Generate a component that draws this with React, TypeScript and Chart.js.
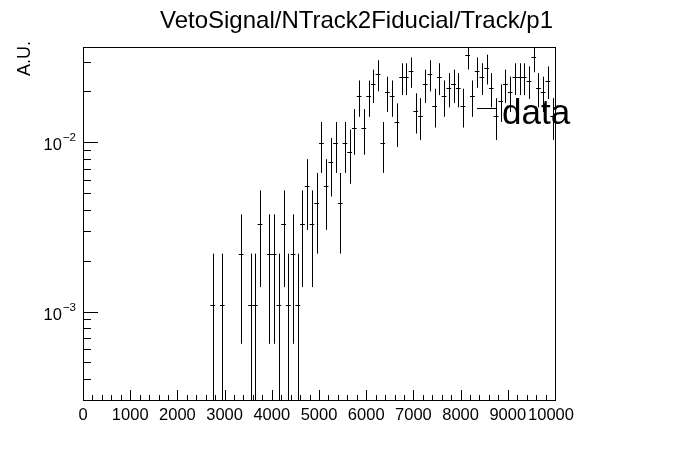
import { useEffect, useRef } from 'react';
import { Chart, registerables } from 'chart.js';

Chart.register(...registerables);

// ---- data ----
const binCenters = [
  2750, 2950, 3350, 3550, 3650, 3750, 3950, 4050, 4150, 4250, 4350, 4450, 4550, 4650, 4750, 4850, 4950,
  5050, 5150, 5250, 5350, 5450, 5550, 5650, 5750, 5850, 5950, 6050, 6150, 6250, 6350,
  6450, 6550, 6650, 6750, 6850, 6950, 7050, 7150, 7250, 7350, 7450, 7550, 7650, 7750, 7850, 7950, 8050,
  8150, 8250, 8350, 8450, 8550, 8650, 8750, 8850, 8950, 9050, 9150, 9250, 9350, 9450, 9550, 9650, 9750, 9850, 9950,
];
const binCounts = [
  1, 1, 2, 1, 1, 3, 2, 2, 1, 3, 1, 2, 1, 3, 5, 3, 4,
  9, 5, 7, 9, 4, 9, 8, 11, 17, 11, 17, 20, 23, 9,
  18, 17, 12, 22, 22, 24, 14, 13, 20, 23, 15, 22, 17, 19, 20, 19, 15,
  30, 17, 24, 22, 25, 19, 13, 16, 20, 18, 22, 22, 22, 21, 29, 19, 18, 21, 13,
];
const entryWeight = 0.0011; // A.U. per entry
const binHalfWidth = 50;

const xMin = 0;
const xMax = 10000;
const yMin = 3.248e-4;
const yMax = 0.03664;

const xTickValues = [0, 1000, 2000, 3000, 4000, 5000, 6000, 7000, 8000, 9000, 10000];
const xTickLabels = ['0', '1000', '2000', '3000', '4000', '5000', '6000', '7000', '8000', '9000', '10000'];
const xMinorStep = 200;
const yMajorTicks = [0.001, 0.01];
const yMajorExponents = ['\u22123', '\u22122'];
const yMinorTicks = [0.0004, 0.0005, 0.0006, 0.0007, 0.0008, 0.0009, 0.002, 0.003, 0.004, 0.005, 0.006, 0.007, 0.008, 0.009, 0.02, 0.03];

const titleText = 'VetoSignal/NTrack2Fiducial/Track/p1';
const yAxisTitle = 'A.U.';
const legendLabel = 'data';

const FONT = '"Liberation Sans", Arial, Helvetica, sans-serif';

const rootPlugin = {
  id: 'rootStyle',
  afterDraw(chart: any) {
    const { ctx, chartArea } = chart;
    const xs = chart.scales.x;
    const ys = chart.scales.y;
    const { left, right, top, bottom } = chartArea;
    ctx.save();
    ctx.strokeStyle = '#000';
    ctx.fillStyle = '#000';
    ctx.lineWidth = 1;

    // error bars
    const ds = chart.data.datasets[0];
    ctx.save();
    ctx.beginPath();
    ctx.rect(left, top, right - left + 1, bottom - top + 1);
    ctx.clip();
    ctx.beginPath();
    ds.data.forEach((p: any) => {
      const xc = Math.round(xs.getPixelForValue(p.x)) + 0.5;
      const x1 = xs.getPixelForValue(p.x - binHalfWidth);
      const x2 = xs.getPixelForValue(p.x + binHalfWidth);
      const yc = Math.round(ys.getPixelForValue(p.y)) + 0.5;
      const lo = p.y - p.err;
      const yLo = lo > yMin ? ys.getPixelForValue(lo) : bottom;
      const yHi = ys.getPixelForValue(p.y + p.err);
      ctx.moveTo(x1, yc);
      ctx.lineTo(x2, yc);
      ctx.moveTo(xc, yHi);
      ctx.lineTo(xc, yLo);
    });
    ctx.stroke();
    ctx.restore();

    // frame
    ctx.strokeRect(left + 0.5, top + 0.5, right - left, bottom - top);

    // x ticks
    ctx.beginPath();
    for (let v = xMin; v <= xMax; v += xMinorStep) {
      const px = Math.round(xs.getPixelForValue(v)) + 0.5;
      const major = v % 1000 === 0;
      ctx.moveTo(px, bottom);
      ctx.lineTo(px, bottom - (major ? 10 : 5));
    }
    // y ticks
    yMajorTicks.forEach((v) => {
      const py = Math.round(ys.getPixelForValue(v)) + 0.5;
      ctx.moveTo(left, py);
      ctx.lineTo(left + 15, py);
    });
    yMinorTicks.forEach((v) => {
      const py = Math.round(ys.getPixelForValue(v)) + 0.5;
      ctx.moveTo(left, py);
      ctx.lineTo(left + 8, py);
    });
    ctx.stroke();

    // x tick labels
    ctx.font = `16.5px ${FONT}`;
    ctx.textAlign = 'center';
    ctx.textBaseline = 'alphabetic';
    xTickValues.forEach((v, i) => {
      let px = xs.getPixelForValue(v);
      if (i === xTickValues.length - 1) px -= 4;
      ctx.fillText(xTickLabels[i], px, 420);
    });

    // y tick labels 10^n
    yMajorTicks.forEach((v, i) => {
      const py = ys.getPixelForValue(v);
      ctx.font = `11.5px ${FONT}`;
      ctx.textAlign = 'right';
      const expW = ctx.measureText(yMajorExponents[i]).width;
      ctx.fillText(yMajorExponents[i], left - 7, py - 1);
      ctx.font = `16.5px ${FONT}`;
      ctx.fillText('10', left - 8 - expW, py + 8);
    });

    // title
    ctx.font = `24px ${FONT}`;
    ctx.textAlign = 'center';
    ctx.fillText(titleText, 356.5, 28);

    // y axis title
    ctx.save();
    ctx.translate(30, 41);
    ctx.rotate(-Math.PI / 2);
    ctx.font = `18px ${FONT}`;
    ctx.textAlign = 'right';
    ctx.fillText(yAxisTitle, 0, 0);
    ctx.restore();

    // legend
    ctx.beginPath();
    ctx.moveTo(477, 108.5);
    ctx.lineTo(497, 108.5);
    ctx.stroke();
    ctx.font = `35px ${FONT}`;
    ctx.textAlign = 'left';
    ctx.fillText(legendLabel, 502, 124);

    ctx.restore();
  },
};

export default function App() {
  const ref = useRef<HTMLCanvasElement | null>(null);
  useEffect(() => {
    document.body.style.margin = '0';
    const points = binCenters.map((c, i) => ({
      x: c,
      y: binCounts[i] * entryWeight,
      err: Math.sqrt(binCounts[i]) * entryWeight,
    }));
    const chart = new Chart(ref.current as HTMLCanvasElement, {
      type: 'scatter',
      data: {
        datasets: [
          {
            label: legendLabel,
            data: points as any,
            pointRadius: 0,
            pointHoverRadius: 0,
            showLine: false,
            borderColor: '#000',
            backgroundColor: '#000',
          },
        ],
      },
      options: {
        animation: false,
        responsive: false,
        devicePixelRatio: 1,
        layout: { padding: { left: 0, top: 47, right: 141, bottom: 0 } },
        plugins: { legend: { display: false }, title: { display: false }, tooltip: { enabled: false } },
        events: [],
        scales: {
          x: {
            type: 'linear',
            min: xMin,
            max: xMax,
            ticks: { display: false },
            grid: { display: false },
            border: { display: false },
            afterFit: (s: any) => {
              s.height = 72;
            },
          },
          y: {
            type: 'logarithmic',
            min: yMin,
            max: yMax,
            ticks: { display: false },
            grid: { display: false },
            border: { display: false },
            afterFit: (s: any) => {
              s.width = 83;
            },
          },
        },
      },
      plugins: [rootPlugin],
    });
    return () => chart.destroy();
  }, []);
  return (
    <div style={{ position: 'absolute', left: 0, top: 0, width: 696, height: 472, background: '#fff' }}>
      <canvas ref={ref} width={696} height={472} style={{ width: 696, height: 472, display: 'block' }} />
    </div>
  );
}
